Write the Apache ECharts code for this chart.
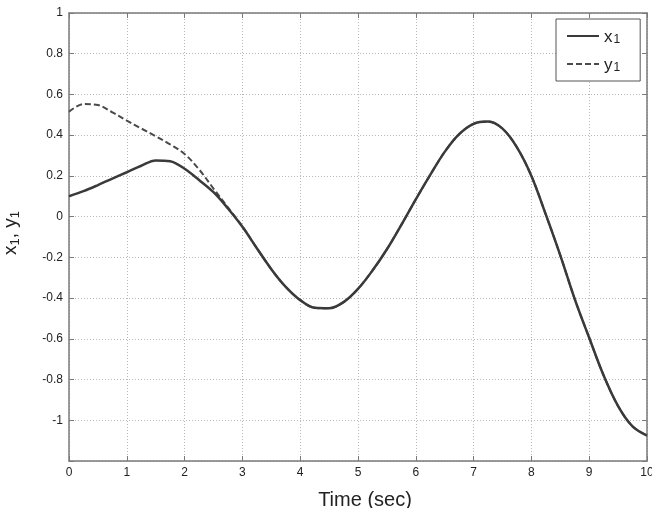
<!DOCTYPE html>
<html>
<head>
<meta charset="utf-8">
<script src="https://cdn.jsdelivr.net/npm/echarts@6/dist/echarts.min.js"></script>
<style>
html,body{margin:0;padding:0;background:#fff;}
#chart{width:652px;height:508px;}
</style>
</head>
<body>
<div id="chart"></div>
<script>
// time samples (sec)
var timeSec = [0,0.25,0.5,0.75,1,1.25,1.5,1.75,2,2.25,2.5,2.75,3,3.25,3.5,3.75,4,4.25,4.5,4.75,5,5.25,5.5,5.75,6,6.25,6.5,6.75,7,7.25,7.5,7.75,8,8.25,8.5,8.75,9,9.25,9.5,9.75,10];
// x1 (solid)
var x1Values = [0.10,0.125,0.155,0.187,0.218,0.25,0.276,0.272,0.235,0.18,0.12,0.04,-0.05,-0.155,-0.258,-0.345,-0.41,-0.448,-0.45,-0.42,-0.355,-0.265,-0.16,-0.04,0.085,0.205,0.318,0.405,0.456,0.467,0.432,0.34,0.2,0.01,-0.19,-0.405,-0.595,-0.78,-0.93,-1.03,-1.075];
// y1 (dashed)
var y1Values = [0.515,0.553,0.548,0.512,0.472,0.433,0.395,0.355,0.308,0.232,0.138,0.045,-0.048,-0.155,-0.258,-0.345,-0.41,-0.448,-0.45,-0.42,-0.355,-0.265,-0.16,-0.04,0.085,0.205,0.318,0.405,0.456,0.467,0.432,0.34,0.2,0.01,-0.19,-0.405,-0.595,-0.78,-0.93,-1.03,-1.075];
var xTicks = [0,1,2,3,4,5,6,7,8,9,10];
var yTickLabels = ['-1','-0.8','-0.6','-0.4','-0.2','0','0.2','0.4','0.6','0.8','1'];

function pairs(vals){ return timeSec.map(function(t,i){ return [t, vals[i]]; }); }

var chart = echarts.init(document.getElementById('chart'));
var axisColor = '#7a7a7a';
var gridLine = {show:true, lineStyle:{color:'#b8b8b8', type:[1,2], width:1}};
var lblFont = 'Liberation Sans, Arial, sans-serif';
chart.setOption({
  animation:false,
  backgroundColor:'#fff',
  grid:{left:69, right:5, top:13, bottom:47, containLabel:false, outerBoundsMode:'none'},
  legend:{
    orient:'vertical', left:556, top:19,
    backgroundColor:'#fff', borderColor:'#555', borderWidth:1,
    padding:[7,20,7,10], itemGap:8, itemWidth:32, itemHeight:14,
    itemStyle:{opacity:0},
    data:['x1','y1'],
    formatter:function(n){ return '{a|' + n.charAt(0) + '}{s|' + n.charAt(1) + '}'; },
    textStyle:{rich:{
      a:{fontSize:17, color:'#222', fontFamily:lblFont, verticalAlign:'bottom', lineHeight:20},
      s:{fontSize:12, color:'#222', fontFamily:lblFont, verticalAlign:'bottom', padding:[8,0,0,1], lineHeight:20}
    }}
  },
  xAxis:[{
    type:'value', min:0, max:10, interval:1,
    name:'Time (sec)', nameLocation:'middle', nameGap:29,
    nameTextStyle:{fontSize:20, color:'#222', fontFamily:lblFont, verticalAlign:'top', padding:[0,0,0,14]},
    axisLine:{show:true, onZero:false, lineStyle:{color:axisColor, width:1.5}},
    axisTick:{show:true, inside:true, length:5, lineStyle:{color:axisColor}},
    axisLabel:{fontSize:12, color:'#222', fontFamily:lblFont, margin:6,
      formatter:function(v){ return xTicks.indexOf(v) >= 0 ? String(v) : ''; }},
    splitLine:gridLine
  },{
    type:'value', min:0, max:10, interval:1, position:'top',
    axisLine:{show:true, onZero:false, lineStyle:{color:axisColor, width:1.5}},
    axisTick:{show:true, inside:true, length:5, lineStyle:{color:axisColor}},
    axisLabel:{show:false}, splitLine:{show:false}
  }],
  yAxis:[{
    type:'value', min:-1.2, max:1, interval:0.2,
    name:'{a|x}{s|1}{a|, y}{s|1}', nameLocation:'middle', nameGap:47, nameRotate:90,
    nameTextStyle:{padding:[0,0,0,8], rich:{
      a:{fontSize:19, color:'#222', fontFamily:lblFont},
      s:{fontSize:13, color:'#222', fontFamily:lblFont, padding:[9,0,0,0]}
    }},
    axisLine:{show:true, onZero:false, lineStyle:{color:axisColor, width:1.5}},
    axisTick:{show:true, inside:true, length:5, lineStyle:{color:axisColor}},
    axisLabel:{fontSize:12, color:'#222', fontFamily:lblFont, margin:6,
      formatter:function(v){
        var s = String(Math.round(v*10)/10);
        return yTickLabels.indexOf(s) >= 0 ? s : '';
      }},
    splitLine:gridLine
  },{
    type:'value', min:-1.2, max:1, interval:0.2, position:'right',
    axisLine:{show:true, onZero:false, lineStyle:{color:axisColor, width:1.5}},
    axisTick:{show:true, inside:true, length:5, lineStyle:{color:axisColor}},
    axisLabel:{show:false}, splitLine:{show:false}
  }],
  series:[{
    name:'x1', type:'line', data:pairs(x1Values), smooth:0.35, symbol:'none',
    lineStyle:{color:'#3a3a3a', width:2.5, type:'solid'}, itemStyle:{color:'#3a3a3a'}, z:3
  },{
    name:'y1', type:'line', data:pairs(y1Values), smooth:0.35, symbol:'none',
    lineStyle:{color:'#4a4a4a', width:2, type:[6,3]}, itemStyle:{color:'#4a4a4a'}, z:2
  }]
});
</script>
</body>
</html>
